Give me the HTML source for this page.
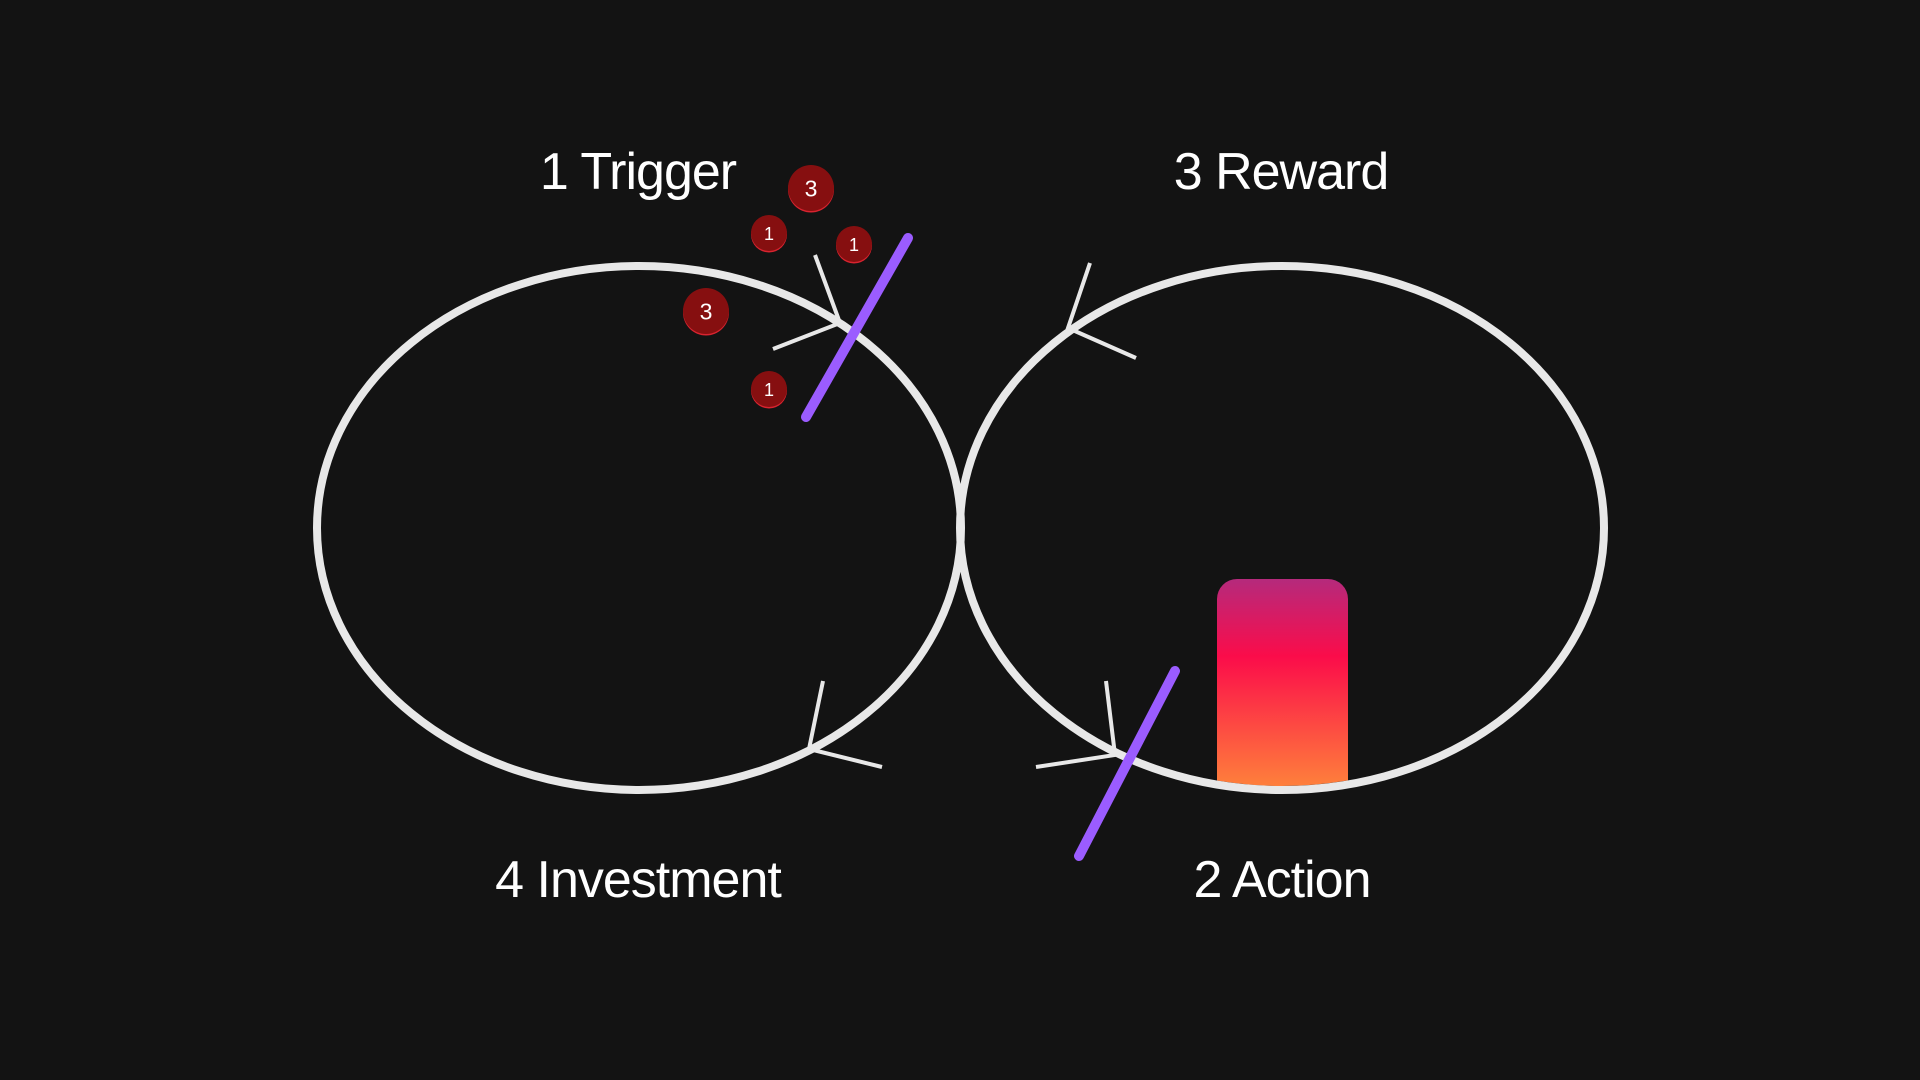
<!DOCTYPE html>
<html><head><meta charset="utf-8">
<style>
html,body{margin:0;padding:0;background:#131313;width:1920px;height:1080px;overflow:hidden}
svg{display:block}
text{font-family:"Liberation Sans",sans-serif}
</style></head>
<body>
<svg id="chart" width="1920" height="1080" viewBox="0 0 1920 1080">
  <defs>
    <linearGradient id="barGrad" x1="0" y1="0" x2="0" y2="1">
      <stop offset="0" stop-color="#b52a7c"/>
      <stop offset="0.35" stop-color="#fb0c4a"/>
      <stop offset="1" stop-color="#ff8c3a"/>
    </linearGradient>
    <clipPath id="rightClip"><ellipse cx="1282" cy="528" rx="318" ry="258"/></clipPath>
  </defs>
  <g id="gradBar" clip-path="url(#rightClip)"></g>
  <ellipse cx="639" cy="528" rx="322" ry="262" fill="none" stroke="#e8e8e8" stroke-width="8"/>
  <ellipse cx="1282" cy="528" rx="322" ry="262" fill="none" stroke="#e8e8e8" stroke-width="8"/>
  <g id="arrows" stroke="#e8e8e8" stroke-width="4" fill="none"></g>
  <g id="slashes" stroke="#9b5cff" stroke-width="10" stroke-linecap="round"></g>
  <g id="badges"></g>
  <text x="638" y="189" font-size="52" fill="#fff" text-anchor="middle" letter-spacing="-1">1 Trigger</text>
  <text x="1281" y="189" font-size="52" fill="#fff" text-anchor="middle" letter-spacing="-1">3 Reward</text>
  <text x="638" y="897" font-size="52" fill="#fff" text-anchor="middle" letter-spacing="-1">4 Investment</text>
  <text x="1282" y="897" font-size="52" fill="#fff" text-anchor="middle" letter-spacing="-1">2 Action</text>
</svg>
<script>
const NS='http://www.w3.org/2000/svg';
const badgeLabels=['3','1','1','3','1'];
const badgeX=[811,769,854,706,769];
const badgeY=[188,233,244,311,389];
const badgeSize=[23,18,18,23,18];
const barLeft=1217, barRight=1348, barTop=579, barBottom=800;

const bar=document.createElementNS(NS,'rect');


bar.setAttribute('x',barLeft);bar.setAttribute('y',barTop);
bar.setAttribute('width',barRight-barLeft);bar.setAttribute('height',barBottom-barTop);
bar.setAttribute('rx',20);bar.setAttribute('fill','url(#barGrad)');
document.getElementById('gradBar').appendChild(bar);

const arrowSets=[
 [[815,255],[840,323],[773,349]],
 [[1090,263],[1068,328],[1136,358]],
 [[823,681],[809,749],[882,767]],
 [[1106,681],[1115,755],[1036,767]]
];
const ag=document.getElementById('arrows');
arrowSets.forEach(p=>{
  const pl=document.createElementNS(NS,'polyline');
  
  
  pl.setAttribute('points',p.map(q=>q.join(',')).join(' '));
  ag.appendChild(pl);
});
const slashSets=[[908,238,806,417],[1175,671,1079,856]];
const sg=document.getElementById('slashes');
slashSets.forEach(s=>{
  const l=document.createElementNS(NS,'line');
  
  
  l.setAttribute('x1',s[0]);l.setAttribute('y1',s[1]);l.setAttribute('x2',s[2]);l.setAttribute('y2',s[3]);
  sg.appendChild(l);
});
const bg=document.getElementById('badges');
badgeLabels.forEach((t,i)=>{
  const g=document.createElementNS(NS,'g');
  
  
  const c2=document.createElementNS(NS,'circle');
  c2.setAttribute('cx',badgeX[i]);c2.setAttribute('cy',badgeY[i]+1.5);c2.setAttribute('r',badgeSize[i]);c2.setAttribute('fill','#d8232f');
  const c=document.createElementNS(NS,'circle');
  c.setAttribute('cx',badgeX[i]);c.setAttribute('cy',badgeY[i]);c.setAttribute('r',badgeSize[i]);c.setAttribute('fill','#860f10');
  const tx=document.createElementNS(NS,'text');
  tx.setAttribute('x',badgeX[i]);tx.setAttribute('y',badgeY[i]+badgeSize[i]*0.38);
  tx.setAttribute('font-size',badgeSize[i]*1.0);tx.setAttribute('fill','#fff');tx.setAttribute('text-anchor','middle');
  tx.textContent=t;
  g.appendChild(c2);g.appendChild(c);g.appendChild(tx);
  bg.appendChild(g);
});
</script>
</body></html>
